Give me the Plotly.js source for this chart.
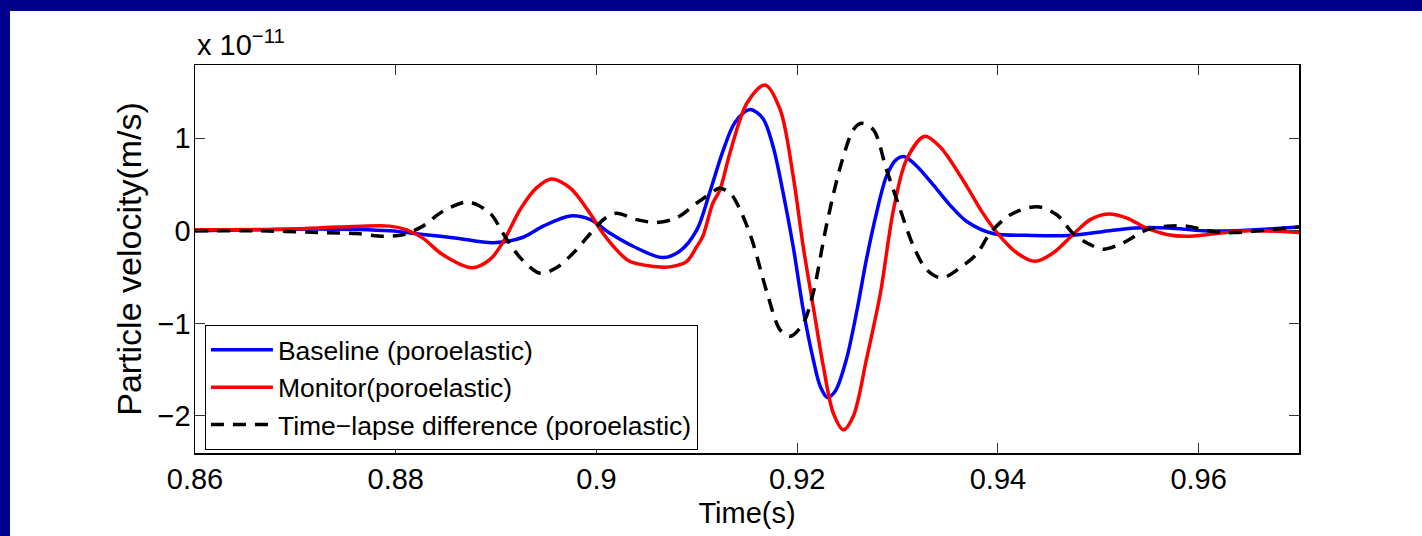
<!DOCTYPE html>
<html>
<head>
<meta charset="utf-8">
<script src="https://cdn.plot.ly/plotly-3.0.1.min.js"></script>
<style>
  html, body { margin: 0; padding: 0; background: #ffffff; }
  #wrap { position: relative; width: 1422px; height: 536px; overflow: hidden; }
  #chart { position: absolute; left: 0; top: 0; width: 1422px; height: 536px; }
  .band { position: absolute; background: #00008c; z-index: 5; }
</style>
</head>
<body>
<div id="wrap">
  <div id="chart"></div>
  <div class="band" style="left:0;top:0;width:1422px;height:11px;"></div>
  <div class="band" style="left:0;top:0;width:10px;height:536px;"></div>
</div>
<script>
// Values in units of 1e-11 m/s
const timeBaseline = [0.860,0.866,0.872,0.8794,0.8827,0.8861,0.8897,0.8927,0.8947,0.8974,0.8994,0.9014,0.9037,0.9066,0.9083,0.9100,0.9113,0.9126,0.9138,0.9153,0.9166,0.9176,0.9186,0.9196,0.9206,0.9216,0.9223,0.9230,0.9238,0.9249,0.9259,0.9269,0.9279,0.9289,0.9299,0.9307,0.9319,0.9336,0.9352,0.9369,0.9395,0.9435,0.9470,0.9504,0.9537,0.9570,0.9604,0.9637,0.9700];
const baseline     = [0.00,0.01,0.02,0.00,-0.04,-0.08,-0.13,-0.07,0.05,0.16,0.12,-0.03,-0.17,-0.29,-0.22,0.01,0.42,0.86,1.17,1.31,1.21,0.91,0.41,-0.17,-0.85,-1.39,-1.68,-1.80,-1.73,-1.39,-0.89,-0.31,0.19,0.59,0.77,0.80,0.70,0.49,0.28,0.10,-0.03,-0.05,-0.05,-0.01,0.03,0.03,0.00,0.00,0.04];

const timeMonitor = [0.860,0.8695,0.8744,0.8794,0.8811,0.8827,0.8847,0.8876,0.8894,0.8907,0.8924,0.8940,0.8955,0.8974,0.8994,0.9004,0.9017,0.9033,0.9057,0.9073,0.9090,0.9100,0.9106,0.9116,0.9123,0.9133,0.9150,0.9168,0.9183,0.9196,0.9206,0.9216,0.9226,0.9236,0.9246,0.9256,0.9269,0.9283,0.9296,0.9309,0.9327,0.9342,0.9352,0.9369,0.9385,0.9399,0.9419,0.9437,0.9455,0.9475,0.9492,0.9510,0.9528,0.9548,0.9568,0.9588,0.9618,0.9651,0.9700];
const monitor     = [0.01,0.02,0.04,0.05,0.01,-0.08,-0.26,-0.40,-0.31,-0.12,0.23,0.46,0.56,0.46,0.18,0.01,-0.17,-0.33,-0.385,-0.39,-0.33,-0.17,-0.06,0.30,0.44,0.84,1.38,1.575,1.31,0.59,-0.17,-0.82,-1.46,-1.97,-2.15,-2.00,-1.39,-0.67,0.23,0.77,1.02,0.91,0.77,0.48,0.19,-0.02,-0.24,-0.33,-0.24,-0.04,0.12,0.18,0.14,0.03,-0.04,-0.06,-0.03,0.00,-0.02];

const timeDiff = [0.860,0.8661,0.8728,0.8761,0.8788,0.8808,0.8827,0.8847,0.8872,0.8894,0.8907,0.8924,0.8944,0.8960,0.8977,0.8994,0.9008,0.9020,0.9040,0.9060,0.9080,0.9100,0.9116,0.9122,0.9133,0.9143,0.9155,0.9170,0.9183,0.9193,0.9206,0.9216,0.9229,0.9243,0.9256,0.9264,0.9276,0.9289,0.9302,0.9316,0.9329,0.9344,0.9366,0.9379,0.9392,0.9412,0.9439,0.9459,0.9475,0.9492,0.9505,0.9525,0.9548,0.9568,0.9588,0.9615,0.9635,0.9671,0.9700];
const difference = [0.00,0.00,-0.02,-0.03,-0.06,-0.04,0.05,0.21,0.31,0.19,-0.03,-0.29,-0.46,-0.40,-0.24,-0.03,0.13,0.19,0.12,0.09,0.14,0.30,0.42,0.46,0.41,0.23,-0.10,-0.67,-1.07,-1.14,-1.00,-0.67,0.05,0.69,1.09,1.16,1.09,0.66,0.25,-0.17,-0.42,-0.51,-0.37,-0.25,-0.03,0.17,0.26,0.17,-0.03,-0.15,-0.20,-0.13,0.01,0.05,0.05,-0.01,-0.02,0.01,0.04];

const seriesNames = ['Baseline (poroelastic)', 'Monitor(poroelastic)', 'Time\u2212lapse difference (poroelastic)'];
const xTickVals = [0.86, 0.88, 0.90, 0.92, 0.94, 0.96];
const xTickText = ['0.86', '0.88', '0.9', '0.92', '0.94', '0.96'];
const yTickVals = [-2, -1, 0, 1];
const yTickText = ['\u22122', '\u22121', '0', '1'];

const FONT = '"Liberation Sans", Arial, Helvetica, sans-serif';

const traces = [
  { x: timeBaseline, y: baseline, name: seriesNames[0], type: 'scatter', mode: 'lines',
    line: { color: '#0000ff', width: 3.5, shape: 'spline', smoothing: 0.9 } },
  { x: timeMonitor, y: monitor, name: seriesNames[1], type: 'scatter', mode: 'lines',
    line: { color: '#ff0000', width: 3.5, shape: 'spline', smoothing: 0.9 } },
  { x: timeDiff, y: difference, name: seriesNames[2], type: 'scatter', mode: 'lines',
    line: { color: '#000000', width: 3.5, shape: 'spline', smoothing: 0.9, dash: '13px,9px' } }
];

const layout = {
  width: 1422, height: 536,
  margin: { l: 195, r: 123, t: 65, b: 83, pad: 0 },
  paper_bgcolor: '#ffffff', plot_bgcolor: '#ffffff',
  font: { family: FONT, color: '#000000', size: 29 },
  showlegend: true,
  legend: {
    x: 0.009, y: 0.33, xanchor: 'left', yanchor: 'top',
    bgcolor: '#ffffff', bordercolor: '#000000', borderwidth: 1,
    font: { family: FONT, size: 26.5, color: '#000000' },
    tracegroupgap: 0, itemwidth: 62
  },
  xaxis: {
    range: [0.86, 0.97], tickvals: xTickVals, ticktext: xTickText,
    showgrid: false, zeroline: false, showline: true, linecolor: '#000000', linewidth: 1.5,
    mirror: 'ticks', ticks: 'inside', ticklen: 10, tickcolor: '#333333', tickwidth: 1,
    tickfont: { family: FONT, size: 29, color: '#000000' },
    title: { text: 'Time(s)', font: { family: FONT, size: 29, color: '#000000' }, standoff: 8 }
  },
  yaxis: {
    range: [-2.4, 1.79], tickvals: yTickVals, ticktext: yTickText,
    showgrid: false, zeroline: false, showline: true, linecolor: '#000000', linewidth: 1.5,
    mirror: 'ticks', ticks: 'inside', ticklen: 10, tickcolor: '#333333', tickwidth: 1,
    tickfont: { family: FONT, size: 29, color: '#000000' },
    ticklabelstandoff: -3,
    title: { text: 'Particle velocity(m/s)', font: { family: FONT, size: 34, color: '#000000' }, standoff: 5 }
  },
  annotations: [
    { xref: 'paper', yref: 'paper', x: 0, y: 1, xanchor: 'left', yanchor: 'bottom', yshift: 2,
      showarrow: false, text: 'x 10<sup>\u221211</sup>',
      font: { family: FONT, size: 29, color: '#000000' } }
  ]
};

Plotly.newPlot('chart', traces, layout, { staticPlot: true, displayModeBar: false });
</script>
</body>
</html>
